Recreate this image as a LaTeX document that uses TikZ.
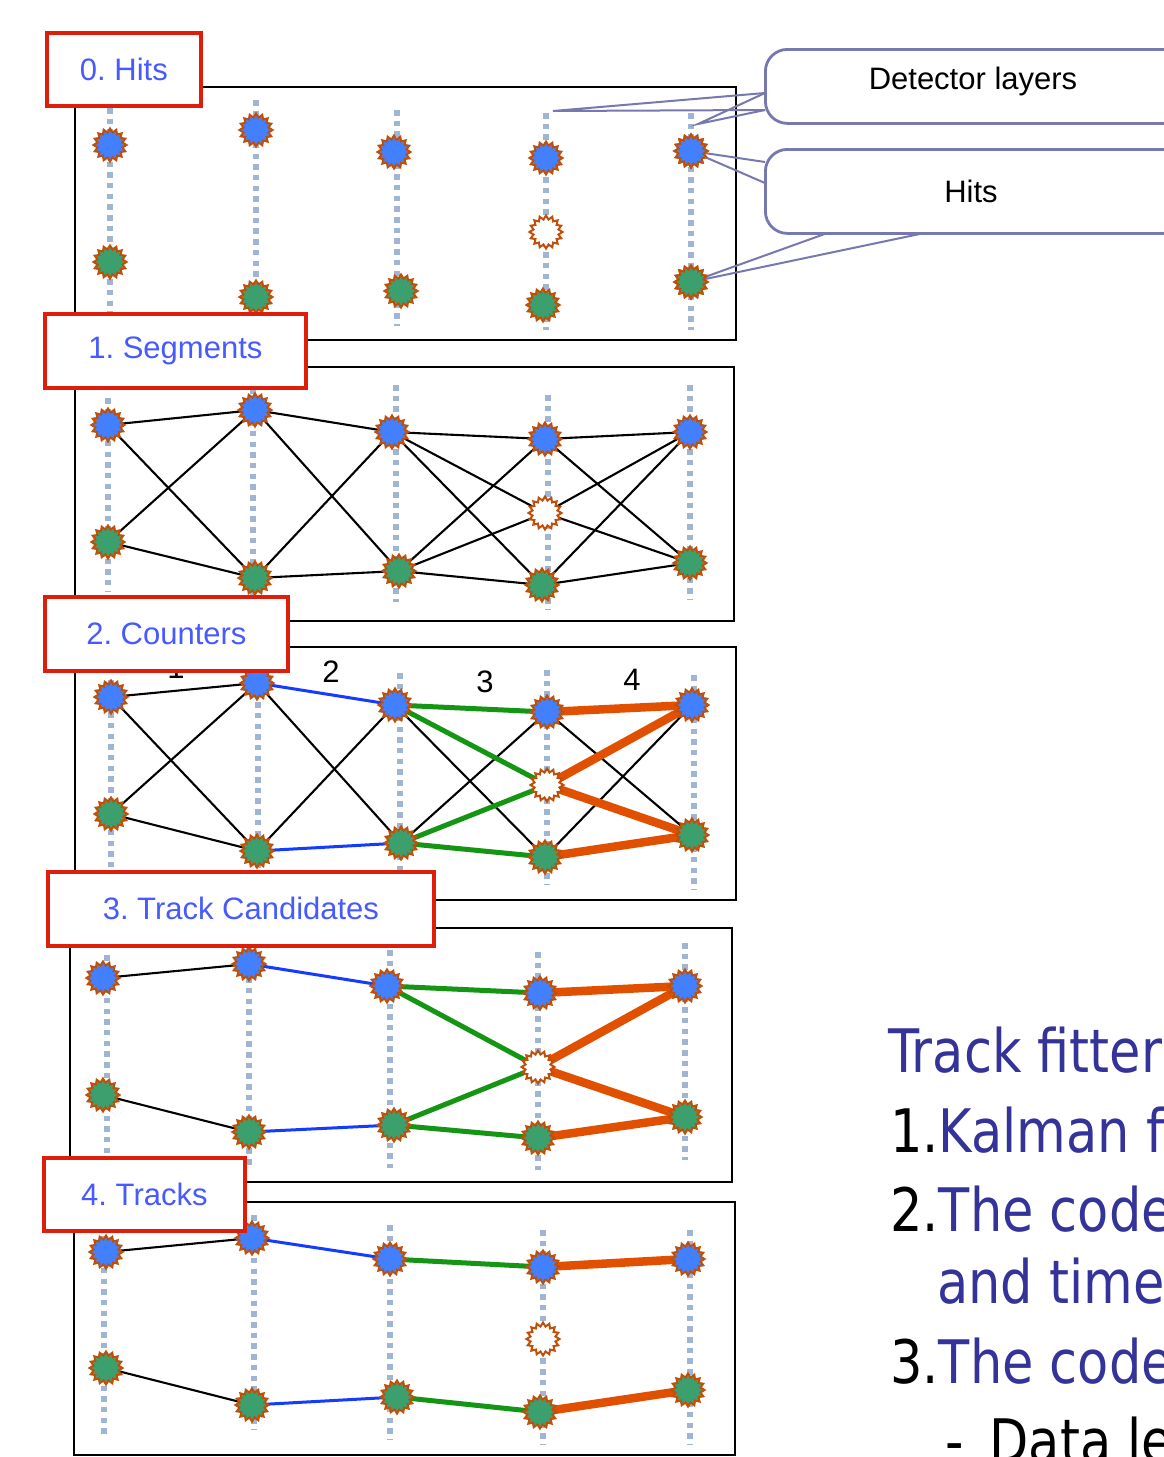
\documentclass[tikz,border=0pt]{standalone}
\usepackage{fontspec}
\setmainfont{Liberation Sans}
\newfontfamily\tfont[FakeStretch=0.85]{DejaVu Sans}
\usetikzlibrary{shapes.geometric}
\pgfdeclarelayer{canvas}
\pgfdeclarelayer{background}
\pgfsetlayers{canvas,background,main}
\frenchspacing
\definecolor{hitblue}{RGB}{66,128,255}
\definecolor{hitgreen}{RGB}{60,160,110}
\definecolor{hitedge}{RGB}{190,80,10}
\definecolor{layercol}{RGB}{160,180,212}
\definecolor{labred}{RGB}{220,30,10}
\definecolor{labtext}{RGB}{70,90,255}
\definecolor{segblue}{RGB}{20,60,255}
\definecolor{seggreen}{RGB}{20,150,20}
\definecolor{segorange}{RGB}{225,80,0}
\definecolor{callcol}{RGB}{120,120,176}
\definecolor{titleblue}{RGB}{51,51,153}
\tikzset{
  hit/.style={star, star points=16, star point ratio=1.3, minimum size=33pt, inner sep=0pt, draw=hitedge, line width=2pt},
  hb/.style={hit, fill=hitblue},
  hg/.style={hit, fill=hitgreen},
  he/.style={hit, fill=white},
  layerline/.style={draw=layercol, line width=6pt, dash pattern=on 5.5pt off 5.2pt},
  panelbox/.style={draw=black, line width=2pt},
  labelbox/.style={draw=labred, line width=3.8pt, fill=white, text=labtext, font=\fontsize{31}{36}\selectfont, inner sep=0pt, anchor=north west},
  seg/.style={draw=black, line width=2.1pt},
  sblue/.style={draw=segblue, line width=3pt},
  sgreen/.style={draw=seggreen, line width=5pt},
  sorange/.style={draw=segorange, line width=8.5pt},
  num/.style={font=\fontsize{31}{36}\selectfont, inner sep=0pt},
  callbox/.style={draw=callcol, line width=2.8pt, fill=white, rounded corners=22pt},
  callptr/.style={draw=callcol, line width=2pt},
  calltext/.style={font=\fontsize{31}{36}\selectfont, inner sep=0pt},
  ttext/.style={font=\tfont\fontsize{60}{72}\selectfont, inner sep=0pt, anchor=base west}
}
\begin{document}
\begin{tikzpicture}[x=1pt,y=-1pt]
\useasboundingbox (0,0) rectangle (1164,1457);
\begin{pgfonlayer}{canvas}
\fill[white] (0,0) rectangle (1164,1457);
\end{pgfonlayer}

% ---------- panel frames ----------
\draw[panelbox] (75,87) rectangle (736,340);
\draw[panelbox] (75,367) rectangle (734,621);
\draw[panelbox] (75,647) rectangle (736,900);
\draw[panelbox] (70,928) rectangle (732,1182);
\draw[panelbox] (74,1202) rectangle (735,1455);

% ---------- detector layer lines ----------
\begin{pgfonlayer}{background}
\draw[layerline] (110,108) -- (110,330);
\draw[layerline] (256,100) -- (256,330);
\draw[layerline] (397,110) -- (397,326);
\draw[layerline] (546,113) -- (546,330);
\draw[layerline] (691,113) -- (691,330);

\draw[layerline] (108,398) -- (108,592);
\draw[layerline] (253,388) -- (253,596);
\draw[layerline] (396,385) -- (396,602);
\draw[layerline] (548,395) -- (548,610);
\draw[layerline] (690,385) -- (690,600);

\draw[layerline] (111,680) -- (111,870);
\draw[layerline] (258,670) -- (258,880);
\draw[layerline] (400,673) -- (400,880);
\draw[layerline] (547,670) -- (547,885);
\draw[layerline] (694,675) -- (694,890);

\draw[layerline] (107,955) -- (107,1160);
\draw[layerline] (249,945) -- (249,1165);
\draw[layerline] (390,950) -- (390,1168);
\draw[layerline] (538,952) -- (538,1170);
\draw[layerline] (685,943) -- (685,1160);

\draw[layerline] (104,1225) -- (104,1435);
\draw[layerline] (254,1215) -- (254,1430);
\draw[layerline] (390,1225) -- (390,1440);
\draw[layerline] (543,1230) -- (543,1445);
\draw[layerline] (690,1230) -- (690,1445);
\end{pgfonlayer}

% ---------- hits: panel 0 ----------
\node[hb] (Ab1) at (110,145) {};
\node[hb] (Ab2) at (256,130) {};
\node[hb] (Ab3) at (394,152) {};
\node[hb] (Ab4) at (546,158) {};
\node[hb] (Ab5) at (691,151) {};
\node[hg] (Ag1) at (110,262) {};
\node[hg] (Ag2) at (256,297) {};
\node[hg] (Ag3) at (401,291) {};
\node[he] (Ae4) at (546,232) {};
\node[hg] (Ag4) at (543,305) {};
\node[hg] (Ag5) at (691,282) {};

% ---------- hits: panel 1 ----------
\node[hb] (Bb1) at (108,425) {};
\node[hb] (Bb2) at (255,410) {};
\node[hb] (Bb3) at (392,432) {};
\node[hb] (Bb4) at (545,439) {};
\node[hb] (Bb5) at (690,432) {};
\node[hg] (Bg1) at (108,542) {};
\node[hg] (Bg2) at (255,578) {};
\node[hg] (Bg3) at (399,571) {};
\node[he] (Be4) at (545,513) {};
\node[hg] (Bg4) at (542,585) {};
\node[hg] (Bg5) at (690,563) {};

% ---------- hits: panel 2 ----------
\node[hb] (Cb1) at (111,697) {};
\node[hb] (Cb2) at (257,683) {};
\node[hb] (Cb3) at (395,705) {};
\node[hb] (Cb4) at (547,712) {};
\node[hb] (Cb5) at (692,705) {};
\node[hg] (Cg1) at (111,814) {};
\node[hg] (Cg2) at (257,851) {};
\node[hg] (Cg3) at (401,843) {};
\node[he] (Ce4) at (547,785) {};
\node[hg] (Cg4) at (545,857) {};
\node[hg] (Cg5) at (692,835) {};

% ---------- hits: panel 3 ----------
\node[hb] (Db1) at (103,978) {};
\node[hb] (Db2) at (249,964) {};
\node[hb] (Db3) at (387,986) {};
\node[hb] (Db4) at (540,993) {};
\node[hb] (Db5) at (685,986) {};
\node[hg] (Dg1) at (103,1095) {};
\node[hg] (Dg2) at (249,1132) {};
\node[hg] (Dg3) at (394,1125) {};
\node[he] (De4) at (538,1067) {};
\node[hg] (Dg4) at (538,1138) {};
\node[hg] (Dg5) at (685,1117) {};

% ---------- hits: panel 4 ----------
\node[hb] (Eb1) at (106,1252) {};
\node[hb] (Eb2) at (252,1238) {};
\node[hb] (Eb3) at (390,1259) {};
\node[hb] (Eb4) at (543,1267) {};
\node[hb] (Eb5) at (688,1259) {};
\node[hg] (Eg1) at (106,1368) {};
\node[hg] (Eg2) at (252,1405) {};
\node[hg] (Eg3) at (397,1397) {};
\node[he] (Ee4) at (543,1339) {};
\node[hg] (Eg4) at (540,1412) {};
\node[hg] (Eg5) at (688,1390) {};

% ---------- connectors ----------
\begin{pgfonlayer}{background}
% panel 1: all segments
\foreach \u in {b1,g1} \foreach \v in {b2,g2} \draw[seg] (B\u.center) -- (B\v.center);
\foreach \u in {b2,g2} \foreach \v in {b3,g3} \draw[seg] (B\u.center) -- (B\v.center);
\foreach \u in {b3,g3} \foreach \v in {b4,e4,g4} \draw[seg] (B\u.center) -- (B\v.center);
\foreach \u in {b4,e4,g4} \foreach \v in {b5,g5} \draw[seg] (B\u.center) -- (B\v.center);
% panel 2: counters
\foreach \u in {b1,g1} \foreach \v in {b2,g2} \draw[seg] (C\u.center) -- (C\v.center);
\draw[seg] (Cb2.center) -- (Cg3.center);
\draw[seg] (Cg2.center) -- (Cb3.center);
\draw[seg] (Cb3.center) -- (Cg4.center);
\draw[seg] (Cg3.center) -- (Cb4.center);
\draw[seg] (Cb4.center) -- (Cg5.center);
\draw[seg] (Cg4.center) -- (Cb5.center);
\draw[sblue] (Cb2.center) -- (Cb3.center);
\draw[sblue] (Cg2.center) -- (Cg3.center);
\draw[sgreen] (Cb3.center) -- (Cb4.center);
\draw[sgreen] (Cb3.center) -- (Ce4.center);
\draw[sgreen] (Cg3.center) -- (Ce4.center);
\draw[sgreen] (Cg3.center) -- (Cg4.center);
\draw[sorange] (Cb4.center) -- (Cb5.center);
\draw[sorange] (Ce4.center) -- (Cb5.center);
\draw[sorange] (Ce4.center) -- (Cg5.center);
\draw[sorange] (Cg4.center) -- (Cg5.center);
% panel 3: track candidates
\draw[seg] (Db1.center) -- (Db2.center);
\draw[seg] (Dg1.center) -- (Dg2.center);
\draw[sblue] (Db2.center) -- (Db3.center);
\draw[sblue] (Dg2.center) -- (Dg3.center);
\draw[sgreen] (Db3.center) -- (Db4.center);
\draw[sgreen] (Db3.center) -- (De4.center);
\draw[sgreen] (Dg3.center) -- (De4.center);
\draw[sgreen] (Dg3.center) -- (Dg4.center);
\draw[sorange] (Db4.center) -- (Db5.center);
\draw[sorange] (De4.center) -- (Db5.center);
\draw[sorange] (De4.center) -- (Dg5.center);
\draw[sorange] (Dg4.center) -- (Dg5.center);
% panel 4: tracks
\draw[seg] (Eb1.center) -- (Eb2.center);
\draw[seg] (Eg1.center) -- (Eg2.center);
\draw[sblue] (Eb2.center) -- (Eb3.center);
\draw[sblue] (Eg2.center) -- (Eg3.center);
\draw[sgreen] (Eb3.center) -- (Eb4.center);
\draw[sgreen] (Eg3.center) -- (Eg4.center);
\draw[sorange] (Eb4.center) -- (Eb5.center);
\draw[sorange] (Eg4.center) -- (Eg5.center);
\end{pgfonlayer}

% ---------- counter numbers ----------
\node[num] (n1) at (176,668) {1};
\node[num] (n2) at (331,672) {2};
\node[num] (n3) at (485,682) {3};
\node[num] (n4) at (632,680) {4};

% ---------- step labels ----------
\node[labelbox, minimum width=154pt, minimum height=73pt] (L0) at (45,31) {0. Hits};
\node[labelbox, minimum width=261pt, minimum height=74pt] (L1) at (43,312) {1. Segments};
\node[labelbox, minimum width=243pt, minimum height=74pt] (L2) at (43,595) {2. Counters};
\node[labelbox, minimum width=386pt, minimum height=74pt] (L3) at (46,870) {3. Track Candidates};
\node[labelbox, minimum width=201pt, minimum height=73pt] (L4) at (42,1156) {4. Tracks};

% ---------- callouts ----------
\coordinate (dl1) at (553,111);
\coordinate (dl2) at (698,124);
\coordinate (da) at (765,93);
\coordinate (db) at (765,110);
\draw[callptr] (da) -- (dl1) -- (db);
\draw[callptr] (da) -- (dl2) -- (db);
\node[callbox, minimum width=420pt, minimum height=74pt, anchor=north west] (CD) at (764,48) {};
\node[calltext] (CDt) at (973,81) {Detector layers};

\coordinate (ha) at (765,162);
\coordinate (hb) at (765,183);
\coordinate (hc) at (833,231);
\coordinate (hd) at (934,231);
\draw[callptr] (ha) -- (Ab5.center) -- (hb);
\draw[callptr] (hc) -- (Ag5.center) -- (hd);
\node[hb] at (Ab5) {};
\node[hg] at (Ag5) {};
\node[callbox, minimum width=420pt, minimum height=84pt, anchor=north west] (CH) at (764,148) {};
\node[calltext] (CHt) at (971,191) {Hits};

% ---------- right-hand text ----------
\node[ttext, text=titleblue] (T0) at (888,1072) {Track fitter};
\node[ttext] (T1) at (890,1152) {1.\textcolor{titleblue}{Kalman filter}};
\node[ttext] (T2) at (890,1231) {2.\textcolor{titleblue}{The code}};
\node[ttext, text=titleblue] (T2b) at (937,1303) {and time};
\node[ttext] (T3) at (890,1383) {3.\textcolor{titleblue}{The code}};
\node[ttext] (T4) at (945,1462) {-\hspace{26pt}Data le};
\end{tikzpicture}
\end{document}
